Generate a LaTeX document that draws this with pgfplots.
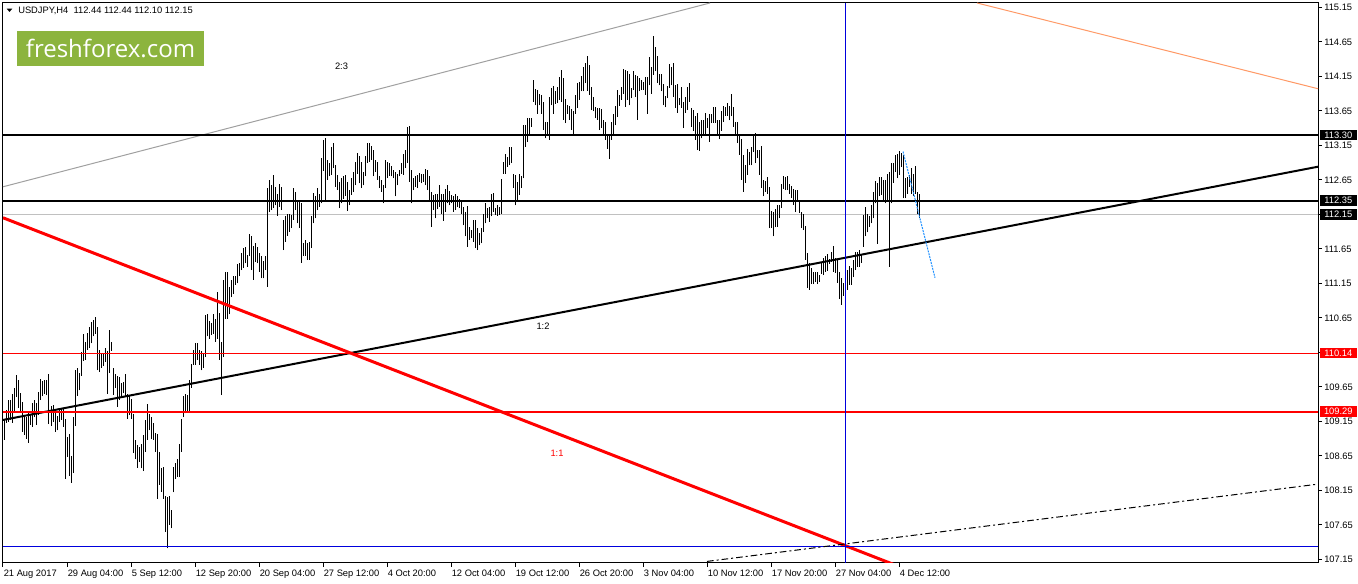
\documentclass[border=0pt]{standalone}
\usepackage{pgfplots}
\pgfplotsset{compat=1.18}
\usepackage{pgfplotstable}
\usepackage{fontspec}
\setmainfont{Liberation Sans}
\newfontfamily\logofont{Open Sans}
\definecolor{logogreen}{HTML}{8CB43E}
\definecolor{salmon}{HTML}{FF9966}
\definecolor{mtblue}{HTML}{0000DD}
\definecolor{dodger}{HTML}{1E90FF}
\definecolor{linegray}{HTML}{A0A0A0}
\definecolor{bidgray}{HTML}{C0C0C0}

% USDJPY H4 bars: x position (2 px per bar), low, high
\pgfplotstableread{
x lo hi
3 108.69 109.01
5 108.88 109.19
7 109.13 109.32
9 109.14 109.46
11 109.17 109.46
13 109.13 109.55
15 109.30 109.64
17 109.50 109.82
19 109.34 109.75
21 109.29 109.56
23 109.00 109.43
25 108.95 109.22
27 108.90 109.21
29 108.84 109.27
31 109.10 109.24
33 109.07 109.41
35 109.21 109.46
37 109.10 109.41
39 109.24 109.58
41 109.46 109.77
43 109.51 109.74
45 109.55 109.75
47 109.53 109.75
49 109.11 109.84
51 109.08 109.37
53 109.14 109.39
55 109.00 109.29
57 109.02 109.23
59 109.14 109.35
61 109.17 109.35
63 109.07 109.35
65 108.32 109.19
67 108.64 108.93
69 108.36 108.97
71 108.26 108.65
73 108.40 109.22
75 109.08 109.89
77 109.52 109.92
79 109.60 109.85
81 109.81 110.16
83 110.03 110.42
85 110.04 110.30
87 110.19 110.43
89 110.21 110.52
91 110.28 110.59
93 110.38 110.62
95 110.42 110.66
97 109.89 110.52
99 109.87 110.18
101 109.92 110.13
103 109.95 110.13
105 110.01 110.21
107 109.55 110.17
109 109.85 110.48
111 110.17 110.30
113 109.53 109.92
115 109.63 109.84
117 109.36 109.81
119 109.46 109.79
121 109.51 109.71
123 109.56 109.72
125 109.50 109.84
127 109.19 109.55
129 109.24 109.53
131 109.19 109.47
133 108.69 109.26
135 108.60 108.88
137 108.48 108.81
139 108.56 108.78
141 108.47 108.82
143 108.43 108.95
145 108.71 109.17
147 108.88 109.40
149 109.02 109.26
151 108.89 109.22
153 108.88 109.12
155 108.71 108.98
157 108.03 108.97
159 108.23 108.71
161 108.13 108.47
163 108.03 108.49
165 107.55 108.07
167 107.31 108.06
169 107.65 108.07
171 107.60 107.87
173 108.12 108.49
175 108.32 108.55
177 108.35 108.61
179 108.35 108.82
181 108.71 109.19
183 109.21 109.51
185 109.27 109.55
187 109.28 109.53
189 109.29 109.75
191 109.64 109.98
193 109.97 110.19
195 109.97 110.28
197 110.04 110.29
199 109.97 110.19
201 109.89 110.17
203 109.93 110.14
205 110.08 110.69
207 110.38 110.71
209 110.35 110.61
211 110.40 110.58
213 110.42 110.71
215 110.30 110.64
217 110.35 111.03
219 110.04 110.72
221 109.53 110.30
223 110.08 111.20
225 110.64 111.32
227 110.64 111.32
229 110.70 111.10
231 110.95 111.20
233 111.00 111.25
235 111.13 111.26
237 111.15 111.43
239 111.25 111.44
241 111.34 111.59
243 111.37 111.66
245 111.44 111.68
247 111.39 111.56
249 111.54 111.87
251 111.34 111.83
253 111.20 111.69
255 111.46 111.74
257 111.44 111.68
259 111.32 111.59
261 111.22 111.54
263 111.22 111.48
265 111.34 111.54
267 111.10 112.53
269 112.19 112.65
271 112.21 112.57
273 112.24 112.72
275 112.28 112.55
277 112.13 112.45
279 112.26 112.59
281 112.21 112.55
283 111.63 112.07
285 111.75 112.13
287 111.84 112.16
289 111.90 112.15
291 111.95 112.14
293 112.07 112.53
295 112.21 112.48
297 112.02 112.33
299 111.95 112.33
301 111.45 112.32
303 111.55 111.73
305 111.55 111.78
307 111.49 111.73
309 111.49 111.75
311 111.66 112.13
313 112.02 112.46
315 112.09 112.41
317 112.21 112.53
319 112.26 112.45
321 112.31 112.96
323 112.78 113.23
325 112.36 113.25
327 112.65 112.94
329 112.70 112.89
331 112.72 113.13
333 112.82 113.19
335 112.55 112.86
337 112.50 112.72
339 112.24 112.62
341 112.31 112.67
343 112.37 112.70
345 112.42 112.72
347 112.20 112.62
349 112.28 112.50
351 112.43 112.67
353 112.47 112.77
355 112.57 112.91
357 112.74 113.04
359 112.60 112.99
361 112.53 112.91
363 112.57 112.77
365 112.70 112.99
367 112.89 113.18
369 112.91 113.19
371 112.94 113.14
373 112.70 113.08
375 112.77 112.94
377 112.65 112.91
379 112.53 112.70
381 112.48 112.65
383 112.31 112.57
385 112.53 112.93
387 112.67 112.91
389 112.71 112.89
391 112.70 112.85
393 112.67 112.79
395 112.41 112.77
397 112.57 112.74
399 112.70 112.79
401 112.74 112.89
403 112.72 113.03
405 112.82 113.08
407 112.89 113.42
409 112.62 113.43
411 112.31 112.79
413 112.50 112.67
415 112.55 112.70
417 112.53 112.72
419 112.62 112.75
421 112.60 112.74
423 112.62 112.74
425 112.57 112.80
427 112.50 112.79
429 112.33 112.70
431 111.97 112.48
433 112.21 112.43
435 112.09 112.45
437 112.22 112.45
439 112.26 112.57
441 112.16 112.45
443 112.06 112.45
445 112.19 112.51
447 112.31 112.57
449 112.28 112.49
451 112.31 112.43
453 112.19 112.41
455 112.21 112.44
457 112.26 112.41
459 112.24 112.37
461 112.16 112.33
463 111.99 112.26
465 111.83 112.19
467 111.68 112.27
469 111.78 111.97
471 111.80 111.92
473 111.75 112.07
475 111.66 112.07
477 111.63 111.95
479 111.70 111.88
481 111.73 111.95
483 111.90 112.16
485 112.02 112.31
487 112.09 112.24
489 112.04 112.26
491 112.12 112.44
493 112.19 112.46
495 112.14 112.24
497 112.13 112.28
499 112.14 112.26
501 112.16 112.66
503 112.74 112.91
505 112.74 113.03
507 112.84 112.98
509 112.86 113.13
511 112.89 113.13
513 112.53 112.73
515 112.28 112.72
517 112.36 112.62
519 112.43 112.74
521 112.53 112.70
523 112.67 113.44
525 113.13 113.44
527 113.20 113.55
529 113.32 113.55
531 113.42 113.55
533 113.78 114.10
535 113.73 113.96
537 113.61 113.95
539 113.73 113.89
541 113.61 113.88
543 113.37 113.78
545 113.25 113.49
547 113.32 113.49
549 113.23 113.85
551 113.73 113.98
553 113.61 114.01
555 113.75 113.94
557 113.76 113.99
559 113.81 114.14
561 113.78 114.24
563 113.52 114.12
565 113.47 113.82
567 113.61 113.73
569 113.52 113.72
571 113.37 113.67
573 113.31 113.65
575 113.61 113.88
577 113.69 114.06
579 113.81 114.07
581 113.93 114.15
583 113.93 114.28
585 114.05 114.34
587 113.94 114.44
589 113.88 114.31
591 113.66 114.00
593 113.64 113.85
595 113.54 113.71
597 113.52 113.69
599 113.37 113.69
601 113.40 113.67
603 113.31 113.52
605 113.23 113.49
607 113.10 113.29
609 112.95 113.32
611 113.23 113.49
613 113.32 113.61
615 113.44 113.72
617 113.56 113.95
619 113.72 113.88
621 113.81 114.00
623 113.90 114.26
625 113.71 114.24
627 113.81 114.22
629 113.73 114.19
631 113.83 113.98
633 113.95 114.23
635 113.85 114.17
637 113.52 114.15
639 113.93 114.12
641 113.95 114.10
643 113.95 114.07
645 113.88 114.14
647 113.61 114.14
649 114.02 114.43
651 113.90 114.29
653 114.17 114.73
655 114.22 114.57
657 114.05 114.44
659 114.02 114.19
661 113.93 114.19
663 113.73 114.04
665 113.70 113.86
667 113.83 114.01
669 113.98 114.33
671 114.02 114.28
673 113.85 114.34
675 113.69 114.02
677 113.62 114.04
679 113.73 113.83
681 113.69 114.00
683 113.40 113.78
685 113.62 113.85
687 113.66 114.00
689 113.78 114.05
691 113.42 113.69
693 113.36 113.66
695 113.23 113.57
697 113.08 113.62
699 113.07 113.49
701 113.25 113.51
703 113.30 113.52
705 113.32 113.62
707 113.40 113.54
709 113.20 113.60
711 113.47 113.61
713 113.48 113.71
715 113.47 113.71
717 113.29 113.52
719 113.24 113.51
721 113.36 113.65
723 113.49 113.72
725 113.58 113.71
727 113.58 113.76
729 113.51 113.72
731 113.57 113.90
733 113.42 113.71
735 113.32 113.49
737 113.18 113.49
739 113.01 113.28
741 112.65 113.24
743 112.48 113.01
745 112.61 112.86
747 112.72 113.09
749 112.86 113.06
751 112.86 113.12
753 113.06 113.28
755 112.89 113.33
757 112.96 113.08
759 112.72 113.08
761 112.53 113.14
763 112.41 112.65
765 112.48 112.64
767 112.45 112.69
769 111.95 112.55
771 111.95 112.20
773 111.83 112.19
775 111.96 112.22
777 111.97 112.29
779 112.09 112.29
781 112.24 112.59
783 112.51 112.71
785 112.50 112.69
787 112.50 112.71
789 112.45 112.59
791 112.38 112.56
793 112.29 112.51
795 112.19 112.50
797 112.33 112.50
799 112.17 112.36
801 111.95 112.19
803 111.92 112.16
805 111.49 111.98
807 111.08 111.59
809 111.06 111.44
811 111.14 111.37
813 111.14 111.32
815 111.17 111.31
817 111.14 111.31
819 111.17 111.27
821 111.29 111.46
823 111.27 111.51
825 111.32 111.55
827 111.33 111.58
829 111.43 111.50
831 111.46 111.60
833 111.32 111.69
835 111.30 111.51
837 111.16 111.49
839 110.92 111.31
841 110.84 111.22
843 110.97 111.15
845 111.10 111.42
847 111.06 111.35
849 111.13 111.40
851 111.13 111.37
853 111.24 111.49
855 111.34 111.60
857 111.39 111.60
859 111.39 111.64
861 111.45 111.58
863 111.68 112.14
865 111.83 112.26
867 111.89 112.15
869 111.97 112.13
871 112.02 112.29
873 112.09 112.48
875 112.31 112.64
877 111.72 112.61
879 112.41 112.69
881 112.43 112.69
883 112.36 112.65
885 112.31 112.65
887 112.33 112.74
889 111.39 112.77
891 112.31 112.89
893 112.61 112.90
895 112.77 113.01
897 112.67 113.03
899 112.72 113.07
901 112.84 113.04
903 112.38 113.01
905 112.38 112.67
907 112.45 112.69
909 112.55 112.72
911 112.45 112.82
913 112.42 112.74
915 112.45 112.85
917 112.15 112.48
919 112.10 112.44
}\bars

\begin{document}
\begin{tikzpicture}
\useasboundingbox (-2.25pt,-15.75pt) rectangle (1016.25pt,422.25pt);
\begin{axis}[
  at={(0pt,0pt)}, anchor=south west,
  scale only axis, width=986.25pt, height=420pt,
  xmin=3, xmax=1318, ymin=107.097, ymax=115.2125,
  clip mode=individual,
  axis line style={black, line width=0.75pt},
  tick align=outside, major tick length=3pt,
  tick style={black, line width=0.75pt},
  xtick pos=left, ytick pos=right, yticklabel pos=right,
  xtick={3,67,131,195,259,323,387,451,515,579,643,707,771,835,899},
  xticklabels={21 Aug 2017,29 Aug 04:00,5 Sep 12:00,12 Sep 20:00,20 Sep 04:00,27 Sep 12:00,4 Oct 20:00,12 Oct 04:00,19 Oct 12:00,26 Oct 20:00,3 Nov 04:00,10 Nov 12:00,17 Nov 20:00,27 Nov 04:00,4 Dec 12:00},
  ytick={107.15,107.65,108.15,108.65,109.15,109.65,110.15,110.65,111.15,111.65,112.15,112.65,113.15,113.65,114.15,114.65,115.15},
  yticklabels={107.15,107.65,108.15,108.65,109.15,109.65,110.15,110.65,111.15,111.65,112.15,112.65,113.15,113.65,114.15,114.65,115.15},
  xticklabel style={anchor=north west, inner sep=0pt, font=\fontsize{7}{8}\selectfont, yshift=-2.25pt, xshift=0.4pt},
  yticklabel style={anchor=west, inner sep=0pt, font=\fontsize{7}{8}\selectfont, xshift=1.5pt},
]
% bid line
\addplot[bidgray, line width=0.75pt] coordinates {(3,112.15) (1318,112.15)};
% price bars
\addplot[draw=none, mark=none, error bars/.cd, y dir=plus, y explicit, error mark=none,
  error bar style={draw=black, solid, line width=0.75pt}]
  table[x=x, y=lo, y error expr=\thisrow{hi}-\thisrow{lo}] {\bars};
% drawn objects
\addplot[linegray, line width=0.75pt] coordinates {(3,112.549) (710,115.2125)};
\addplot[salmon, line width=0.75pt] coordinates {(977,115.2125) (1318,113.97)};
\addplot[black, line width=1.5pt] coordinates {(3,113.30) (1318,113.30)};
\addplot[black, line width=1.5pt] coordinates {(3,112.35) (1318,112.35)};
\addplot[black, line width=1.5pt] coordinates {(3,109.17) (1318,112.84)};
\addplot[red, line width=0.75pt] coordinates {(3,110.14) (1318,110.14)};
\addplot[red, line width=1.5pt] coordinates {(3,109.29) (1318,109.29)};
\addplot[red, line width=2.25pt] coordinates {(3,112.10) (900,107.04)};
\addplot[mtblue, line width=0.75pt] coordinates {(3,107.339) (1318,107.339)};
\addplot[black, line width=0.75pt, dash pattern=on 5pt off 2.25pt on 1.5pt off 2.25pt] coordinates {(707,107.12) (1318,108.24)};
\addplot[mtblue, line width=0.75pt] coordinates {(845,107.097) (845,115.2125)};
\addplot[dodger, line width=0.75pt, dash pattern=on 1.5pt off 0.75pt] coordinates {(903,113.06) (935,111.23)};
% labels
\node[font=\fontsize{7}{8}\selectfont] at (axis cs:341.5,114.29) {2:3};
\node[font=\fontsize{7}{8}\selectfont] at (axis cs:543,110.53) {1:2};
\node[font=\fontsize{7}{8}\selectfont, text=red] at (axis cs:557,108.69) {1:1};
% header and logo
\fill[black] (axis cs:6.7,115.13) -- (axis cs:12.3,115.13) -- (axis cs:9.5,115.083) -- cycle;
\node[anchor=west, inner sep=0pt, font=\fontsize{7}{8}\selectfont] at (axis cs:18,115.097) {USDJPY,H4\ \ 112.44 112.44 112.10 112.15};
\fill[logogreen] (axis cs:17,114.807) rectangle (axis cs:204,114.304);
\node[text=white, font=\logofont\fontsize{18}{21}\selectfont] at (axis cs:110.5,114.55) {freshforex.com};
% anchors for highlighted price labels
\coordinate (p1) at (axis cs:1319.5,113.30);
\coordinate (p2) at (axis cs:1319.5,112.35);
\coordinate (p3) at (axis cs:1319.5,112.15);
\coordinate (p4) at (axis cs:1319.5,110.14);
\coordinate (p5) at (axis cs:1319.5,109.29);
\end{axis}
\foreach \c/\t/\col in {p1/113.30/black,p2/112.35/black,p3/112.15/black,p4/110.14/red,p5/109.29/red}
  \node[fill=\col, text=white, anchor=west, inner sep=0pt, minimum width=27.75pt, minimum height=8pt,
        font=\fontsize{7}{8}\selectfont] at (\c) {\t};
\end{tikzpicture}
\end{document}
